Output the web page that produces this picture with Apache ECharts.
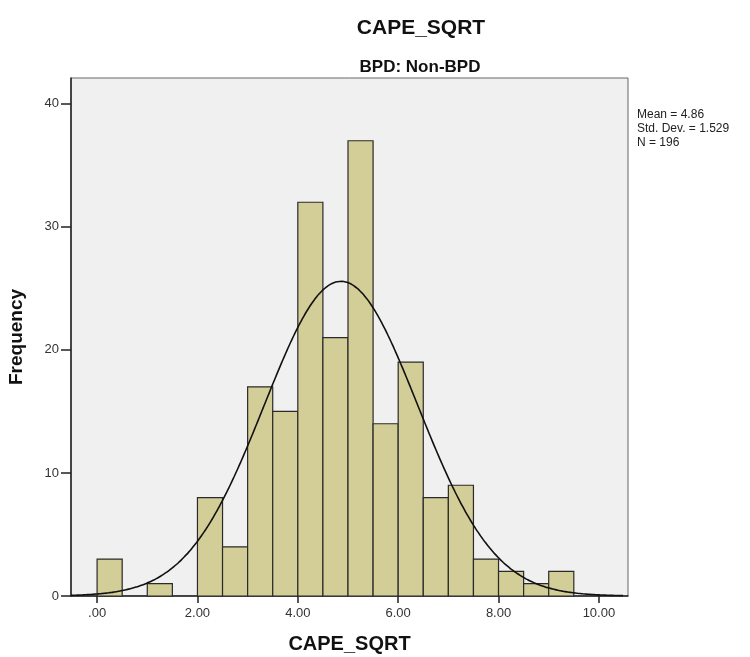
<!DOCTYPE html>
<html>
<head>
<meta charset="utf-8">
<script src="https://cdn.jsdelivr.net/npm/echarts@6/dist/echarts.min.js"></script>
<style>
  html, body { margin: 0; padding: 0; background: #ffffff; }
  #chart { width: 750px; height: 657px; }
</style>
</head>
<body>
<div id="chart"></div>
<script>
// Histogram bins (lower edge of each 0.5-wide bin) and their frequencies
const binStarts = [0, 0.5, 1, 1.5, 2, 2.5, 3, 3.5, 4, 4.5, 5, 5.5, 6, 6.5, 7, 7.5, 8, 8.5, 9];
const frequencies = [3, 0, 1, 0, 8, 4, 17, 15, 32, 21, 37, 14, 19, 8, 9, 3, 2, 1, 2];
const binWidth = 0.5;

// Summary statistics shown beside the plot
const statMean = 4.86;
const statSD = 1.529;
const statN = 196;

// Axis ticks
const xTicks = [0, 2, 4, 6, 8, 10];
const yTicks = [0, 10, 20, 30, 40];

const xMin = -0.52, xMax = 10.58;
const yMax = 42.1;

// Normal curve scaled to histogram counts: N * binWidth * pdf(x)
const curve = [];
for (let x = xMin; x <= 10.5 + 1e-9; x += 0.05) {
  const z = (x - statMean) / statSD;
  const y = statN * binWidth * Math.exp(-0.5 * z * z) / (statSD * Math.sqrt(2 * Math.PI));
  curve.push([x, y]);
}

const bars = binStarts.map((s, i) => [s, s + binWidth, frequencies[i]]).filter(d => d[2] > 0);

const fmtX = v => {
  const s = Number(v).toFixed(2);
  return s.startsWith('0.') ? s.slice(1) : s;
};

const FONT = 'Liberation Sans, Arial, sans-serif';

const chart = echarts.init(document.getElementById('chart'), null, { renderer: 'canvas' });
chart.setOption({
  animation: false,
  backgroundColor: '#ffffff',
  textStyle: { fontFamily: FONT },
  title: [
    {
      text: 'CAPE_SQRT',
      left: 416, top: 13, textAlign: 'center',
      textStyle: { fontSize: 21, fontWeight: 'bold', color: '#111', fontFamily: FONT }
    },
    {
      text: 'BPD: Non-BPD',
      left: 415, top: 54, textAlign: 'center',
      textStyle: { fontSize: 17, fontWeight: 'bold', color: '#111', fontFamily: FONT }
    }
  ],
  grid: {
    left: 71, right: 122, top: 78, bottom: 61,
    outerBoundsMode: 'none', containLabel: false,
    show: true, backgroundColor: '#f0f0f0', borderColor: '#666', borderWidth: 1
  },
  xAxis: {
    type: 'value', min: xMin, max: xMax,
    name: 'CAPE_SQRT', nameLocation: 'middle', nameGap: 38,
    nameTextStyle: { fontSize: 20, fontWeight: 'bold', color: '#111' },
    axisLine: { show: true, onZero: false, lineStyle: { color: '#222', width: 1.5 } },
    axisTick: { show: true, length: 7, customValues: xTicks, lineStyle: { color: '#222', width: 1.5 } },
    axisLabel: { customValues: xTicks, formatter: fmtX, fontSize: 13, color: '#333', margin: 11 },
    splitLine: { show: false }
  },
  yAxis: {
    type: 'value', min: 0, max: yMax,
    name: 'Frequency', nameLocation: 'middle', nameGap: 45, nameRotate: 90,
    nameTextStyle: { fontSize: 19, fontWeight: 'bold', color: '#111' },
    axisLine: { show: true, onZero: false, lineStyle: { color: '#222', width: 1.5 } },
    axisTick: { show: true, length: 10, customValues: yTicks, lineStyle: { color: '#222', width: 1.5 } },
    axisLabel: { customValues: yTicks, fontSize: 13, color: '#333', margin: 12 },
    splitLine: { show: false }
  },
  graphic: [
    {
      type: 'text', left: 637, top: 108,
      style: {
        text: 'Mean = ' + statMean.toFixed(2) + '\nStd. Dev. = ' + statSD.toFixed(3) + '\nN = ' + statN,
        font: '12px "Liberation Sans", Arial, sans-serif', fill: '#222', lineHeight: 14
      }
    }
  ],
  series: [
    {
      type: 'custom',
      data: bars,
      z: 2,
      renderItem: (params, api) => {
        const p0 = api.coord([api.value(0), 0]);
        const p1 = api.coord([api.value(1), api.value(2)]);
        return {
          type: 'rect',
          shape: { x: p0[0], y: p1[1], width: p1[0] - p0[0], height: p0[1] - p1[1] },
          style: { fill: '#d3ce97', stroke: '#2a2a2a', lineWidth: 1.2 }
        };
      },
      encode: { x: [0, 1], y: 2 }
    },
    {
      type: 'line',
      data: curve,
      showSymbol: false,
      smooth: true,
      z: 3,
      lineStyle: { color: '#111', width: 1.6 }
    }
  ]
});
</script>
</body>
</html>
